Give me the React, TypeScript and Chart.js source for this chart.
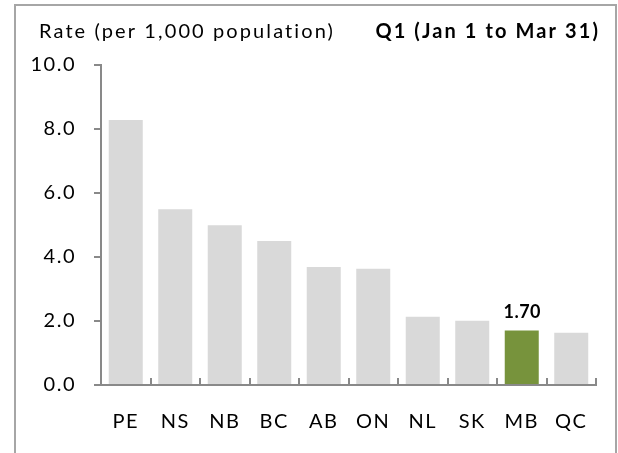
import React, { useEffect, useRef } from "react";
import { Chart, registerables } from "chart.js";

Chart.register(...registerables);

const categories = ["PE", "NS", "NB", "BC", "AB", "ON", "NL", "SK", "MB", "QC"];
const rates = [8.28, 5.49, 4.99, 4.5, 3.69, 3.63, 2.13, 2.01, 1.7, 1.63];
const highlightIndex = 8;
const highlightLabel = "1.70";
const yTitle = "Rate (per 1,000 population)";
const periodTitle = "Q1 (Jan 1 to Mar 31)";

const FONT = "Lato, 'Noto Sans', sans-serif";
const AXIS = "#898989";

const framePlugin = {
  id: "frame",
  beforeDraw(chart: any) {
    const ctx = chart.ctx;
    ctx.save();
    ctx.fillStyle = "#ffffff";
    ctx.fillRect(0, 0, chart.width, chart.height);
    ctx.strokeStyle = "#a6a6a6";
    ctx.lineWidth = 2;
    ctx.beginPath();
    ctx.moveTo(15, chart.height + 5);
    ctx.lineTo(15, 5);
    ctx.lineTo(616, 5);
    ctx.lineTo(616, chart.height + 5);
    ctx.stroke();
    ctx.restore();
    (ctx as any).letterSpacing = "1.5px";
  },
  afterDraw(chart: any) {
    const ctx = chart.ctx;
    (ctx as any).letterSpacing = "0px";
    const x = chart.scales.x;
    const y = chart.scales.y;
    const base = y.getPixelForValue(0);
    ctx.save();
    // titles
    ctx.fillStyle = "#000";
    ctx.textBaseline = "middle";
    (ctx as any).letterSpacing = "2.1px";
    ctx.font = `20px ${FONT}`;
    ctx.textAlign = "left";
    ctx.fillText(yTitle, 39, 32);
    ctx.font = `bold 20px ${FONT}`;
    ctx.textAlign = "right";
    ctx.fillText(periodTitle, 600, 32);
    (ctx as any).letterSpacing = "0px";
    // x-axis inward ticks at category boundaries
    ctx.strokeStyle = AXIS;
    ctx.lineWidth = 2;
    ctx.beginPath();
    for (let i = 0; i <= categories.length; i++) {
      let px: number;
      if (i === 0) px = x.left;
      else if (i === categories.length) px = x.right;
      else px = (x.getPixelForValue(i - 1) + x.getPixelForValue(i)) / 2;
      ctx.moveTo(Math.round(px), base);
      ctx.lineTo(Math.round(px), base - 7);
    }
    ctx.stroke();
    // data label on highlighted bar
    const meta = chart.getDatasetMeta(0);
    const bar = meta.data[highlightIndex];
    ctx.font = `bold 18px ${FONT}`;
    ctx.textAlign = "center";
    ctx.textBaseline = "bottom";
    (ctx as any).letterSpacing = "0.5px";
    ctx.fillText(highlightLabel, bar.x + 0.5, bar.y - 9);
    (ctx as any).letterSpacing = "0px";
    ctx.restore();
  },
};

export default function App() {
  const ref = useRef<HTMLCanvasElement>(null);
  useEffect(() => {
    document.body.style.margin = "0";
    const chart = new Chart(ref.current!, {
      type: "bar",
      data: {
        labels: categories,
        datasets: [
          {
            data: rates,
            backgroundColor: rates.map((_, i) => (i === highlightIndex ? "#77933c" : "#d9d9d9")),
            barPercentage: 0.687,
            categoryPercentage: 1,
          },
        ],
      },
      options: {
        animation: false,
        responsive: false,
        layout: { padding: { top: 65, right: 22, left: 0, bottom: 0 } },
        plugins: { legend: { display: false }, tooltip: { enabled: false }, title: { display: false } },
        scales: {
          x: {
            grid: { display: false, drawTicks: false },
            border: { color: AXIS, width: 2 },
            ticks: { color: "#000", font: { family: FONT, size: 20 }, padding: 25 },
            afterFit: (s: any) => {
              s.height = 453 - 385;
            },
          },
          y: {
            min: 0,
            max: 10,
            ticks: {
              stepSize: 2,
              color: "#000",
              font: { family: FONT, size: 20 },
              padding: 18,
              callback: (v: any) => Number(v).toFixed(1),
            },
            grid: { drawOnChartArea: false, drawTicks: true, tickLength: 7, color: AXIS, lineWidth: 2 },
            border: { color: AXIS, width: 2 },
            afterFit: (s: any) => {
              s.width = 101;
            },
          },
        },
      },
      plugins: [framePlugin],
    });
    return () => chart.destroy();
  }, []);
  return (
    <div style={{ width: 618, height: 453 }}>
      <canvas ref={ref} width={618} height={453} style={{ display: "block" }} />
    </div>
  );
}
